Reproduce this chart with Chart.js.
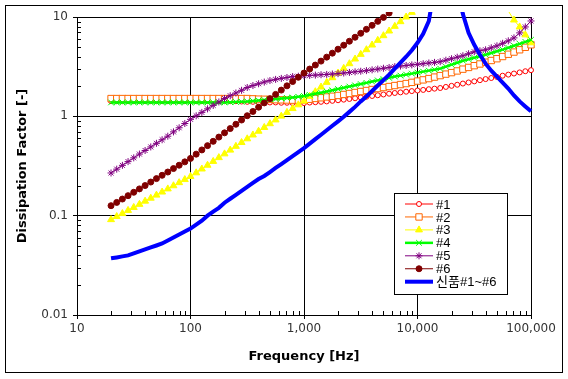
<!DOCTYPE html>
<html>
<head>
<meta charset="utf-8">
<script src="https://cdn.jsdelivr.net/npm/chart.js@4.4.1/dist/chart.umd.min.js"></script>
<style>
html,body{margin:0;padding:0;background:#fff;}
#marco{position:absolute;left:5px;top:5px;width:556px;height:366px;border:1px solid #000;}
#grafico{position:absolute;left:0;top:0;}
</style>
</head>
<body>
<div id="marco"></div>
<canvas id="grafico" width="568" height="379"></canvas>
<script>
// frecuencias [Hz]
var frecuencias = [19.95,22.39,25.12,28.18,31.62,35.48,39.81,44.67,50.12,56.23,63.1,70.79,79.43,89.13,
    100,112.2,125.9,141.3,158.5,177.8,199.5,223.9,251.2,281.8,316.2,354.8,398.1,446.7,501.2,562.3,631,707.9,794.3,891.3,
    1000,1122,1259,1413,1585,1778,1995,2239,2512,2818,3162,3548,3981,4467,5012,5623,6310,7079,7943,8913,
    10000,11220,12589,14125,15849,17783,19953,22387,25119,28184,31623,35481,39811,44668,50119,56234,63096,70795,79433,89125,
    100000,112202];

var muestra1 = [1.42,1.42,1.42,1.42,1.42,1.42,1.42,1.42,1.42,1.42,1.42,1.42,1.42,1.42,
    1.42,1.42,1.42,1.42,1.42,1.42,1.42,1.42,1.42,1.41,1.40,1.40,1.39,1.39,1.38,1.38,1.37,1.37,1.36,1.36,
    1.36,1.377,1.387,1.40,1.413,1.432,1.452,1.472,1.496,1.52,1.549,1.574,1.603,1.63,1.66,1.69,1.718,1.742,1.77,1.795,
    1.82,1.845,1.875,1.90,1.928,1.977,2.028,2.08,2.138,2.193,2.249,2.312,2.371,2.432,2.495,2.564,2.63,2.698,2.767,2.844,
    2.917,null];

var muestra2 = [1.51,1.51,1.51,1.51,1.51,1.51,1.51,1.51,1.51,1.51,1.51,1.51,1.51,1.51,
    1.51,1.51,1.51,1.51,1.51,1.51,1.51,1.51,1.51,1.51,1.51,1.50,1.49,1.485,1.48,1.47,1.465,1.46,1.455,1.455,
    1.462,1.486,1.514,1.538,1.567,1.592,1.622,1.66,1.698,1.738,1.778,1.82,1.862,1.905,1.95,1.995,2.042,2.089,2.138,2.198,
    2.265,2.328,2.399,2.483,2.57,2.661,2.754,2.864,2.985,3.105,3.236,3.365,3.508,3.648,3.802,4.0,4.217,4.436,4.677,4.955,
    5.248,null];

var muestra3 = [0.0912,0.098,0.105,0.113,0.121,0.130,0.140,0.150,0.161,0.173,0.186,0.200,0.215,0.231,
    0.248,0.270,0.295,0.322,0.352,0.384,0.419,0.457,0.499,0.545,0.594,0.649,0.708,0.773,0.843,0.920,1.005,1.096,1.197,1.306,
    1.426,1.589,1.770,1.972,2.198,2.449,2.729,3.041,3.388,3.776,4.207,4.688,5.224,5.821,6.486,7.228,8.054,8.974,10.0,11.14,
    14.1,30,30,30,30,30,30,30,30,30,30,30,30,30,30,15.8,11.5,9.33,7.94,6.61,
    5.50,null];

var muestra4 = [1.38,1.38,1.38,1.38,1.38,1.38,1.38,1.38,1.38,1.38,1.38,1.38,1.38,1.38,
    1.38,1.38,1.38,1.38,1.38,1.38,1.38,1.387,1.396,1.403,1.413,1.429,1.445,1.462,1.479,1.496,1.514,1.531,1.549,1.574,
    1.603,1.644,1.687,1.73,1.778,1.828,1.884,1.936,1.995,2.051,2.113,2.173,2.239,2.301,2.371,2.438,2.512,2.57,2.63,2.692,
    2.754,2.818,2.884,2.951,3.02,3.162,3.311,3.467,3.631,3.758,3.89,4.027,4.169,4.335,4.519,4.699,4.898,5.129,5.37,5.623,
    5.888,null];

var muestra5 = [0.269,0.294,0.321,0.350,0.382,0.417,0.453,0.492,0.535,0.581,0.631,0.697,0.767,0.847,
    0.933,1.012,1.096,1.189,1.288,1.396,1.514,1.611,1.718,1.828,1.95,2.042,2.128,2.213,2.291,2.355,2.41,2.46,2.512,2.535,
    2.559,2.582,2.6,2.624,2.642,2.667,2.692,2.729,2.767,2.805,2.844,2.884,2.938,2.992,3.048,3.105,3.162,3.206,3.251,3.296,
    3.342,3.388,3.443,3.491,3.548,3.673,3.802,3.936,4.074,4.266,4.467,4.571,4.677,4.898,5.129,5.433,5.754,6.166,6.918,7.943,
    9.12,10.72];

var muestra6 = [0.126,0.136,0.147,0.159,0.172,0.186,0.201,0.218,0.236,0.255,0.275,0.298,0.322,0.348,
    0.377,0.416,0.459,0.507,0.560,0.618,0.682,0.753,0.832,0.918,1.014,1.119,1.236,1.365,1.507,1.663,1.837,2.028,2.239,2.472,
    2.729,2.992,3.281,3.597,3.945,4.325,4.742,5.2,5.702,6.252,6.855,7.516,8.241,9.036,9.908,10.96,12.02,null,null,null,
    null,null,null,null,null,null,null,null,null,null,null,null,null,null,null,null,null,null,null,null,
    null,null];

var nuevo = [0.0372,0.038,0.0389,0.0398,0.0417,0.0437,0.0457,0.0479,0.0501,0.0525,0.0562,0.0603,0.0646,0.0692,
    0.0741,0.0813,0.0891,0.100,0.110,0.120,0.135,0.148,0.162,0.178,0.195,0.214,0.234,0.251,0.275,0.302,0.331,0.363,0.398,0.437,
    0.479,0.531,0.589,0.653,0.724,0.804,0.891,0.989,1.109,1.245,1.413,1.585,1.799,2.042,2.317,2.63,3.02,3.467,3.981,4.624,
    5.495,6.761,9.12,20,63,100,63,20,10.7,6.918,5.248,4.169,3.388,2.884,2.512,2.188,1.905,1.622,1.413,1.259,
    1.122,1.0];

var nombres = ['#1', '#2', '#3', '#4', '#5', '#6', '신품#1~#6'];

function esMayor(v){
    var l = Math.log10(v);
    return Math.abs(l - Math.round(l)) < 1e-6;
}

function puntos(serie){
    return frecuencias.map(function(f, i){ return {x: f, y: serie[i]}; });
}

function colorGrid(ctx){
    return esMayor(ctx.tick.value) ? '#000' : 'rgba(0,0,0,0)';
}

var recorte = {left: 0, top: 5, right: 7, bottom: 0};

var datosChart = {
    datasets: [{
        label: nombres[0], data: puntos(muestra1), order: 6,
        borderColor: '#FF0000', borderWidth: 1,
        pointStyle: 'circle', pointRadius: 2.5, pointBorderWidth: 1,
        pointBorderColor: '#FF0000', pointBackgroundColor: '#fff', clip: recorte
    },{
        label: nombres[1], data: puntos(muestra2), order: 5,
        borderColor: '#FF6600', borderWidth: 1,
        pointStyle: 'rect', pointRadius: 4.5, pointBorderWidth: 1,
        pointBorderColor: '#FF6600', pointBackgroundColor: '#fff', clip: recorte
    },{
        label: nombres[2], data: puntos(muestra3), order: 4,
        borderColor: '#FFFF00', borderWidth: 1,
        pointStyle: 'triangle', pointRadius: 4, pointBorderWidth: 1,
        pointBorderColor: '#FFFF00', pointBackgroundColor: '#FFFF00', clip: recorte
    },{
        label: nombres[3], data: puntos(muestra4), order: 3,
        borderColor: '#00FF00', borderWidth: 2.5,
        pointStyle: 'crossRot', pointRadius: 4, pointBorderWidth: 1,
        pointBorderColor: '#00FF00', pointBackgroundColor: '#00FF00', clip: recorte
    },{
        label: nombres[4], data: puntos(muestra5), order: 2,
        borderColor: '#800080', borderWidth: 1,
        pointStyle: 'star', pointRadius: 3.5, pointBorderWidth: 1,
        pointBorderColor: '#800080', pointBackgroundColor: '#800080', clip: recorte
    },{
        label: nombres[5], data: puntos(muestra6), order: 1,
        borderColor: '#800000', borderWidth: 1,
        pointStyle: 'circle', pointRadius: 3, pointBorderWidth: 1,
        pointBorderColor: '#800000', pointBackgroundColor: '#800000', clip: recorte
    },{
        label: nombres[6], data: puntos(nuevo), order: 0,
        borderColor: '#0000FF', borderWidth: 4,
        pointRadius: 0, clip: recorte
    }]
};

// leyenda dibujada a mano dentro del area
var leyendaPropia = {
    id: 'leyendaPropia',
    afterDraw: function(chart){
        var ctx = chart.ctx;
        ctx.save();
        ctx.fillStyle = '#fff';
        ctx.fillRect(394.5, 193.5, 113, 101);
        ctx.strokeStyle = '#000';
        ctx.lineWidth = 1;
        ctx.strokeRect(394.5, 193.5, 113, 101);
        chart.data.datasets.forEach(function(ds, i){
            var y = 204 + i * 12.95;
            ctx.strokeStyle = ds.borderColor;
            ctx.lineWidth = ds.borderWidth;
            ctx.beginPath();
            ctx.moveTo(405, y);
            ctx.lineTo(433, y);
            ctx.stroke();
            if (ds.pointRadius > 0){
                ctx.fillStyle = ds.pointBackgroundColor;
                ctx.strokeStyle = ds.pointBorderColor;
                ctx.lineWidth = ds.pointBorderWidth;
                Chart.helpers.drawPoint(ctx, {pointStyle: ds.pointStyle, radius: ds.pointRadius, borderWidth: ds.pointBorderWidth, rotation: 0}, 419, y);
            }
            ctx.fillStyle = '#000';
            ctx.font = '13px "Liberation Sans", "Noto Sans CJK KR", sans-serif';
            ctx.textBaseline = 'middle';
            ctx.textAlign = 'left';
            ctx.fillText(ds.label, 436, y + 1);
        });
        ctx.restore();
    }
};

// marcas menores hacia dentro
var marcasMenores = {
    id: 'marcasMenores',
    afterDraw: function(chart){
        var ctx = chart.ctx, a = chart.chartArea;
        var sx = chart.scales.x, sy = chart.scales.y;
        ctx.save();
        ctx.strokeStyle = '#000';
        ctx.lineWidth = 1;
        ctx.beginPath();
        for (var d = 10; d < 100000; d *= 10){
            for (var m = 2; m < 10; m++){
                var px = Math.round(sx.getPixelForValue(d * m)) + 0.5;
                ctx.moveTo(px, a.bottom);
                ctx.lineTo(px, a.bottom - 4);
            }
        }
        for (var e = 0.01; e < 10; e *= 10){
            for (var n = 2; n < 10; n++){
                var py = Math.round(sy.getPixelForValue(e * n)) + 0.5;
                ctx.moveTo(a.left, py);
                ctx.lineTo(a.left + 4, py);
            }
        }
        ctx.stroke();
        ctx.restore();
    }
};

var fuenteTicks = {family: 'DejaVu Sans', size: 12};
var fuenteTitulo = {family: 'DejaVu Sans', size: 13, weight: 'bold'};

var newChar = document.getElementById('grafico');

var charGrafico = new Chart(newChar, {
    type: 'line',
    data: datosChart,
    options: {
        responsive: false,
        animation: false,
        layout: {padding: {left: 0, top: 17, right: 37, bottom: 0}},
        plugins: {legend: {display: false}, tooltip: {enabled: false}},
        elements: {line: {tension: 0}},
        scales: {
            x: {
                type: 'logarithmic', min: 10, max: 100000,
                afterFit: function(s){ s.height = 64; },
                grid: {color: colorGrid, tickColor: colorGrid, lineWidth: 1, tickLength: 4},
                border: {display: true, color: '#000'},
                ticks: {
                    autoSkip: false, maxRotation: 0, padding: 3, color: '#333', font: fuenteTicks,
                    callback: function(v){ return esMayor(v) ? Math.round(v).toLocaleString('en-US') : ''; }
                },
                title: {display: true, text: 'Frequency [Hz]', color: '#000', font: fuenteTitulo, padding: {top: 0, bottom: 15}}
            },
            y: {
                type: 'logarithmic', min: 0.01, max: 10,
                afterFit: function(s){ s.width = 77; },
                grid: {color: colorGrid, tickColor: colorGrid, lineWidth: 1, tickLength: 4},
                border: {display: true, color: '#000'},
                ticks: {
                    autoSkip: false, padding: 5, color: '#333', font: fuenteTicks,
                    callback: function(v){
                        if (!esMayor(v)) return '';
                        var e = Math.round(Math.log10(v));
                        return e < 0 ? v.toFixed(-e) : String(Math.round(v));
                    }
                },
                title: {display: true, text: 'Dissipation Factor [-]', color: '#000', font: fuenteTitulo, padding: {top: 15, bottom: 0}}
            }
        }
    },
    plugins: [marcasMenores, leyendaPropia]
});
</script>
</body>
</html>
